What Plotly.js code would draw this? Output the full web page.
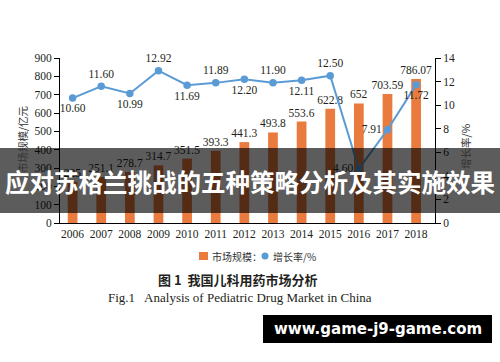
<!DOCTYPE html>
<html>
<head>
<meta charset="utf-8">
<script src="https://cdn.plot.ly/plotly-3.0.1.min.js"></script>
<style>
html,body{margin:0;padding:0;background:#fff;}
#chart{width:500px;height:362px;}
</style>
</head>
<body>
<div id="chart"></div>
<script>
// ---- data ----
const years = ['2006','2007','2008','2009','2010','2011','2012','2013','2014','2015','2016','2017','2018'];
const marketSize = [225, 251.1, 278.7, 314.7, 351.5, 393.3, 441.3, 493.8, 553.6, 622.8, 652, 703.59, 786.07];
const growthRate = [10.60, 11.60, 10.99, 12.92, 11.69, 11.89, 12.20, 11.90, 12.11, 12.50, 4.60, 7.91, 11.72];
const leftTicks = [0,100,200,300,400,500,600,700,800,900];
const rightTicks = [0,2,4,6,8,10,12,14];
const seriesNames = ['市场规模：', '增长率/%'];
const leftTitle = '市场规模/亿元';
const rightTitle = '增长率/%';
const bannerText = '应对苏格兰挑战的五种策略分析及其实施效果';
const captionCn = '<b>图 1  我国儿科用药市场分析</b>';
const captionEn = 'Fig.1   Analysis of Pediatric Drug Market in China';
const siteText = '<b>www.game-j9-game.com</b>';

const growthLabelPos = ['bottom center','top center','bottom center','top center','bottom center','top center',
  'bottom center','top center','bottom center','top center','middle left','middle left','bottom center'];

const ORANGE = '#E97B3E';
const BLUE = '#5B9BD5';
const INK = '#231f20';
const SERIF = 'Liberation Serif, Times New Roman, serif';
const CJK = 'Noto Sans CJK SC, sans-serif';

// pixel -> paper helpers (plot area x:60..435, y:58..223)
const PX0 = 60, PX1 = 435, PY0 = 58, PY1 = 223;
const px = x => (x - PX0) / (PX1 - PX0);
const py = y => (PY1 - y) / (PY1 - PY0);

const traces = [
  {
    type: 'bar', x: years, y: marketSize, name: seriesNames[0],
    marker: {color: ORANGE}, width: 0.34,
    text: marketSize.map(v => String(v)), textposition: 'outside',
    constraintext: 'none', cliponaxis: false,
    textfont: {family: SERIF, size: 11.5, color: INK},
    showlegend: false, hoverinfo: 'skip'
  },
  {
    type: 'scatter', mode: 'lines+markers+text', x: years, y: growthRate, yaxis: 'y2',
    name: seriesNames[1],
    line: {color: BLUE, width: 2}, marker: {color: BLUE, size: 7.5},
    text: growthRate.map(v => v.toFixed(2)), textposition: growthLabelPos,
    cliponaxis: false,
    textfont: {family: SERIF, size: 11.5, color: INK},
    showlegend: false, hoverinfo: 'skip'
  }
];

function note(x, y, text, font, extra) {
  return Object.assign({xref: 'paper', yref: 'paper', x: px(x), y: py(y), text: text, showarrow: false,
    xanchor: 'center', yanchor: 'middle', font: font}, extra || {});
}

const layout = {
  width: 500, height: 362,
  margin: {l: PX0, r: 500 - PX1, t: PY0, b: 362 - PY1},
  paper_bgcolor: '#fff', plot_bgcolor: '#fff',
  showlegend: false,
  xaxis: {
    type: 'category', range: [-0.44, 12.66],
    showline: true, linecolor: '#000', linewidth: 1,
    ticks: '', showgrid: false, zeroline: false,
    tickfont: {family: SERIF, size: 11.5, color: INK}
  },
  yaxis: {
    range: [0, 900], tickvals: leftTicks,
    showline: true, linecolor: '#000', linewidth: 1,
    ticks: 'outside', ticklen: 5, tickcolor: '#000',
    showgrid: false, zeroline: false,
    tickfont: {family: SERIF, size: 11.5, color: INK}
  },
  yaxis2: {
    range: [0, 14], tickvals: rightTicks, overlaying: 'y', side: 'right',
    showline: true, linecolor: '#000', linewidth: 1,
    ticks: 'outside', ticklen: 5, tickcolor: '#000',
    showgrid: false, zeroline: false,
    tickfont: {family: SERIF, size: 11.5, color: INK}
  },
  shapes: [
    // legend symbols
    {type: 'rect', xref: 'paper', yref: 'paper', x0: px(199), x1: px(208), y0: py(260), y1: py(252),
     fillcolor: ORANGE, line: {width: 0}},
    {type: 'circle', xref: 'paper', yref: 'paper', x0: px(261.5), x1: px(268.5), y0: py(259.5), y1: py(252.5),
     fillcolor: BLUE, line: {width: 0}},
    // banner
    {type: 'rect', layer: 'above', xref: 'paper', yref: 'paper', x0: px(-5), x1: px(505), y0: py(213), y1: py(148),
     fillcolor: 'rgba(0,0,0,0.64)', line: {width: 0}},
    // site box
    {type: 'rect', layer: 'above', xref: 'paper', yref: 'paper', x0: px(263), x1: px(492), y0: py(343), y1: py(315),
     fillcolor: '#000', line: {width: 0}}
  ],
  annotations: [
    note(22, 139, leftTitle, {family: CJK, size: 10.5, color: '#333'}, {textangle: -90}),
    note(465, 146, rightTitle, {family: CJK, size: 10.5, color: '#333'}, {textangle: -90}),
    note(210, 256, seriesNames[0], {family: CJK, size: 10, color: '#333'}, {xanchor: 'left'}),
    note(271, 256, seriesNames[1], {family: CJK, size: 10, color: '#333'}, {xanchor: 'left'}),
    note(238, 279, captionCn, {family: CJK, size: 13, color: INK}),
    note(240, 297, captionEn, {family: SERIF, size: 13, color: INK}),
    note(250, 181, '<b>' + bannerText + '</b>', {family: CJK, size: 24.5, color: '#fff'}),
    note(377.5, 329, siteText, {family: 'DejaVu Sans, sans-serif', size: 15, color: '#fff'})
  ]
};

Plotly.newPlot('chart', traces, layout, {displayModeBar: false, staticPlot: true});
</script>
</body>
</html>
